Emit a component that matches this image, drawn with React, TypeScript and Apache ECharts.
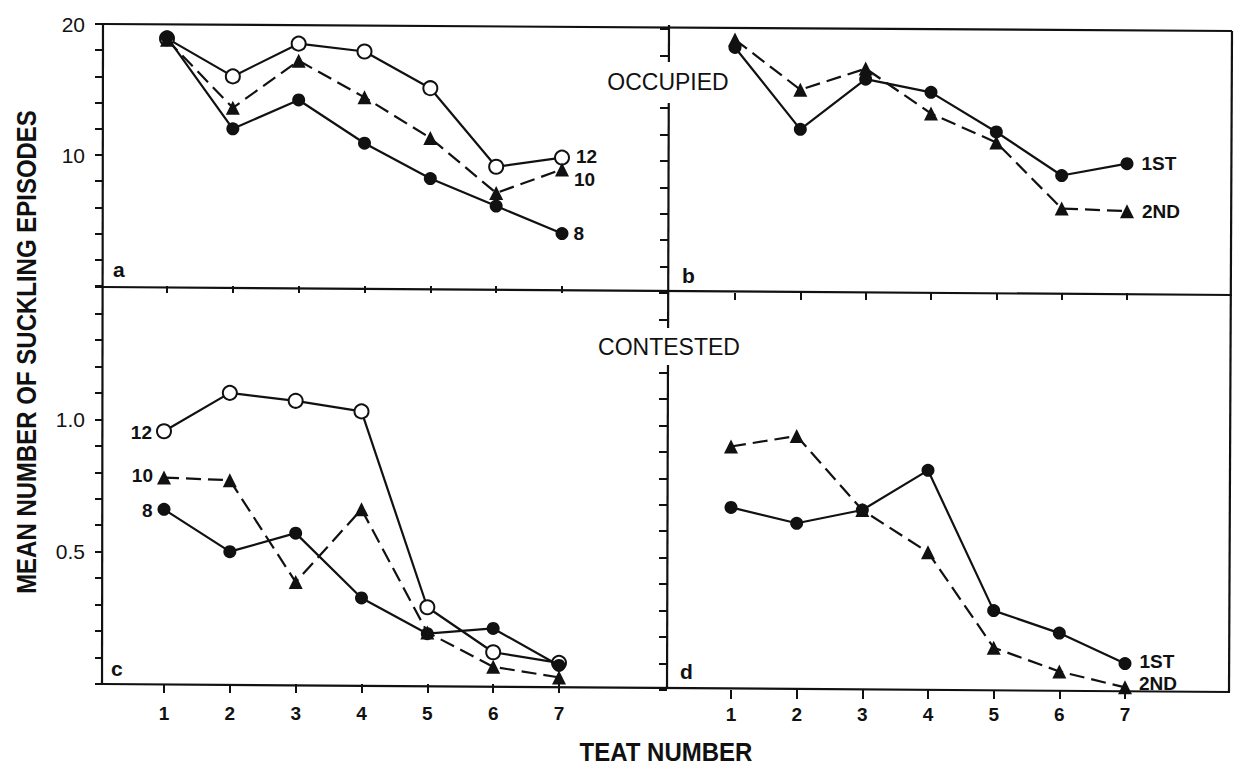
import React, { useEffect, useRef } from 'react';
import * as echarts from 'echarts';

const FONT = '"Liberation Sans", Arial, Helvetica, sans-serif';
const INK = '#111111';

// Teat numbers (x categories)
const TEATS = ['1', '2', '3', '4', '5', '6', '7'];

// Panel a: occupied teats, by litter size
const occLitter12 = [18.9, 16.0, 18.5, 17.9, 15.1, 9.1, 9.8];
const occLitter10 = [18.8, 13.6, 17.2, 14.4, 11.3, 7.1, 8.9];
const occLitter8 = [19.0, 12.0, 14.2, 10.9, 8.2, 6.1, 4.0];

// Panel b: occupied teats, 1st vs 2nd
const occFirst = [18.6, 12.4, 16.2, 15.2, 12.2, 8.9, 9.8];
const occSecond = [19.2, 15.4, 17.0, 13.6, 11.4, 6.4, 6.2];

// Panel c: contested teats, by litter size
const conLitter12 = [0.955, 1.10, 1.07, 1.03, 0.29, 0.12, 0.08];
const conLitter10 = [0.78, 0.77, 0.385, 0.66, 0.195, 0.065, 0.025];
const conLitter8 = [0.66, 0.50, 0.57, 0.325, 0.19, 0.21, 0.07];

// Panel d: contested teats, 1st vs 2nd
const conFirst = [0.69, 0.63, 0.68, 0.83, 0.30, 0.215, 0.10];
const conSecond = [0.92, 0.96, 0.68, 0.52, 0.16, 0.07, 0.01];

// Labelled ticks
const OCC_LABELS = [10, 20];
const CON_LABELS = [0.5, 1.0];

type Kind = 'filled' | 'open' | 'tri';
interface LabelCfg {
  index: number;
  text: string;
  position: 'left' | 'right';
  distance: number;
  offset: [number, number];
}

function makeSeries(gridIdx: number, values: number[], kind: Kind, lab: LabelCfg) {
  const data = values.map((v, i) =>
    i === lab.index
      ? {
          value: v,
          label: {
            show: true,
            formatter: lab.text,
            position: lab.position,
            distance: lab.distance,
            offset: lab.offset,
            color: INK,
            fontSize: 19,
            lineHeight: 18,
            fontWeight: 'bold',
            fontFamily: FONT,
          },
        }
      : v
  );
  const itemStyle =
    kind === 'open'
      ? { color: '#ffffff', borderColor: INK, borderWidth: 2 }
      : { color: INK, borderColor: INK, borderWidth: 0 };
  return {
    type: 'line',
    xAxisIndex: gridIdx,
    yAxisIndex: gridIdx,
    data,
    clip: false,
    symbol: kind === 'tri' ? 'triangle' : 'circle',
    symbolSize: kind === 'tri' ? 14 : kind === 'open' ? 14 : 13,
    showAllSymbol: true,
    itemStyle,
    lineStyle: {
      color: INK,
      width: 2.2,
      type: kind === 'tri' ? [15, 7] : 'solid',
    },
    emphasis: { disabled: true },
    z: kind === 'filled' ? 4 : 3,
  };
}

function fmtLabels(list: number[], digits: number) {
  return (v: number) => {
    for (const t of list) {
      if (Math.abs(v - t) < 1e-6) return t.toFixed(digits);
    }
    return '';
  };
}

function yAxisCfg(gridIdx: number, offset: number, max: number, interval: number, labels: number[] | null, digits: number) {
  return {
    type: 'value',
    gridIndex: gridIdx,
    min: 0,
    max,
    interval,
    offset,
    axisLine: { show: false },
    splitLine: { show: false },
    axisTick: { show: true, length: 8, inside: false, lineStyle: { color: INK, width: 2 } },
    axisLabel: labels
      ? {
          show: true,
          margin: 18,
          color: INK,
          fontSize: 21,
          fontFamily: FONT,
          formatter: fmtLabels(labels, digits),
        }
      : { show: false },
  };
}

function xAxisCfg(gridIdx: number, showLabels: boolean, tickLen: number, margin: number) {
  return {
    type: 'category',
    gridIndex: gridIdx,
    data: TEATS,
    boundaryGap: false,
    axisLine: { show: false },
    splitLine: { show: false },
    axisTick: { show: true, length: tickLen, inside: false, interval: 0, lineStyle: { color: INK, width: 2 } },
    axisLabel: showLabels
      ? { show: true, interval: 0, margin, color: INK, fontSize: 19, fontWeight: 'bold', fontFamily: FONT }
      : { show: false },
  };
}

function frameLine(x1: number, y1: number, x2: number, y2: number) {
  return {
    type: 'line',
    z: 40,
    shape: { x1, y1, x2, y2 },
    style: { stroke: INK, lineWidth: 2.2 },
  };
}

function txt(text: string, x: number, y: number, size: number, weight: string, align: string, extra: any = {}) {
  return {
    type: 'text',
    x,
    y,
    z: 60,
    ...extra,
    style: {
      text,
      fill: INK,
      fontSize: size,
      fontWeight: weight,
      fontFamily: FONT,
      align,
      verticalAlign: 'middle',
      textAlign: align,
      textVerticalAlign: 'middle',
    },
  };
}

export default function App() {
  const ref = useRef<HTMLDivElement>(null);

  useEffect(() => {
    if (!ref.current) return;
    const chart = echarts.init(ref.current, null, { renderer: 'svg' });

    const option: any = {
      animation: false,
      backgroundColor: '#ffffff',
      grid: [
        { left: 167, top: 24, width: 395, height: 262 },
        { left: 735, top: 29, width: 392, height: 264 },
        { left: 164, top: 287, width: 395, height: 397 },
        { left: 731, top: 293, width: 394, height: 397 },
      ],
      xAxis: [
        xAxisCfg(0, false, 7, 0),
        xAxisCfg(1, false, 7, 0),
        xAxisCfg(2, true, 9, 20),
        xAxisCfg(3, true, 9, 15),
      ],
      yAxis: [
        yAxisCfg(0, 64, 20, 2, OCC_LABELS, 0),
        yAxisCfg(1, 67, 20, 2, null, 0),
        yAxisCfg(2, 61, 1.5, 0.1, CON_LABELS, 1),
        yAxisCfg(3, 64, 1.5, 0.1, null, 1),
      ],
      series: [
        makeSeries(0, occLitter12, 'open', { index: 6, text: '12', position: 'right', distance: 6, offset: [0, -1] }),
        makeSeries(0, occLitter10, 'tri', { index: 6, text: '10', position: 'right', distance: 5, offset: [0, 10] }),
        makeSeries(0, occLitter8, 'filled', { index: 6, text: '8', position: 'right', distance: 5, offset: [0, 0] }),
        makeSeries(1, occFirst, 'filled', { index: 6, text: '1ST', position: 'right', distance: 8, offset: [0, 0] }),
        makeSeries(1, occSecond, 'tri', { index: 6, text: '2ND', position: 'right', distance: 8, offset: [0, 0] }),
        makeSeries(2, conLitter12, 'open', { index: 0, text: '12', position: 'left', distance: 4, offset: [0, 1] }),
        makeSeries(2, conLitter10, 'tri', { index: 0, text: '10', position: 'left', distance: 4, offset: [0, -2] }),
        makeSeries(2, conLitter8, 'filled', { index: 0, text: '8', position: 'left', distance: 5, offset: [0, 1] }),
        makeSeries(3, conFirst, 'filled', { index: 6, text: '1ST', position: 'right', distance: 8, offset: [0, -2] }),
        makeSeries(3, conSecond, 'tri', { index: 6, text: '2ND', position: 'right', distance: 7, offset: [0, -4] }),
      ],
      graphic: [
        // outer frame and dividers
        frameLine(103, 24, 1232, 31),
        frameLine(103, 287, 1232, 295),
        frameLine(103, 684, 1230, 692),
        frameLine(103, 24, 102, 684),
        frameLine(669, 25, 667, 688),
        frameLine(1232, 31, 1229, 692),
        // white gaps behind the centre labels
        { type: 'rect', z: 50, shape: { x: 604, y: 62, width: 130, height: 41 }, style: { fill: '#ffffff' } },
        { type: 'rect', z: 50, shape: { x: 594, y: 328, width: 152, height: 37 }, style: { fill: '#ffffff' } },
        txt('OCCUPIED', 668, 82, 23, 'normal', 'center'),
        txt('CONTESTED', 669, 347, 23, 'normal', 'center'),
        // panel letters
        txt('a', 113, 269, 21, 'bold', 'left'),
        txt('b', 682, 275, 21, 'bold', 'left'),
        txt('c', 111, 668, 21, 'bold', 'left'),
        txt('d', 680, 671, 21, 'bold', 'left'),
        // axis titles
        txt('MEAN NUMBER OF SUCKLING EPISODES', 26, 352, 28, 'bold', 'center', { rotation: Math.PI / 2, scaleX: 0.857 }),
        txt('TEAT NUMBER', 666, 752, 25, 'bold', 'center', { scaleX: 0.96 }),
      ],
    };

    chart.setOption(option);
    return () => chart.dispose();
  }, []);

  return (
    <div
      ref={ref}
      style={{ position: 'fixed', left: 0, top: 0, width: 1238, height: 765, background: '#ffffff' }}
    />
  );
}
